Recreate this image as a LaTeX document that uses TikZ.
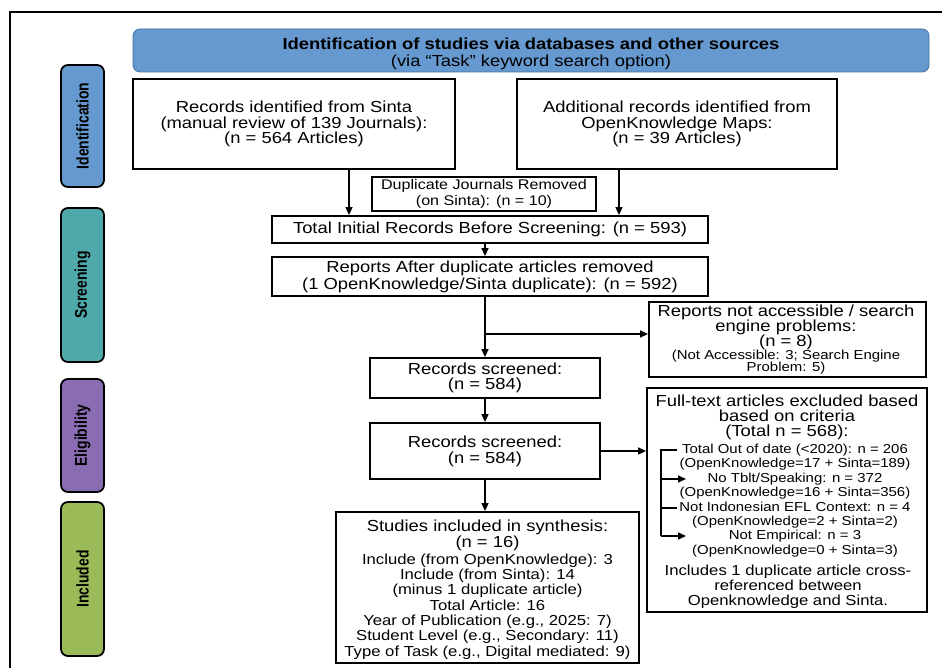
\documentclass[tikz,border=0pt]{standalone}
\usepackage{fontspec}
\setmainfont{Liberation Sans}[FakeStretch=1.15]
\newfontfamily\sidefont{Liberation Sans}[FakeStretch=0.82]
\usetikzlibrary{arrows.meta}
\definecolor{hdrblue}{HTML}{6699D0}
\definecolor{hdrline}{HTML}{41719C}
\definecolor{idblue}{HTML}{6699D0}
\definecolor{scrteal}{HTML}{4FA9AB}
\definecolor{eligpurple}{HTML}{8A6CB2}
\definecolor{inclgreen}{HTML}{9BBB59}
\newcommand\fsz[2]{\fontsize{#1}{#2}\selectfont}
\begin{document}
\begin{tikzpicture}[x=1pt,y=-1pt,
  box/.style={draw=black, line width=1.8pt, fill=white, inner sep=0pt, align=center},
  txt/.style={inner sep=0pt, align=center},
  side/.style={draw=black, line width=1.8pt, rounded corners=7pt, minimum width=43pt, inner sep=0pt},
  sidetxt/.style={rotate=90, inner sep=0pt, font=\sidefont\bfseries\fsz{17}{18}},
  arr/.style={line width=1.4pt, -{Triangle[length=8pt,width=7pt]}},
  plain/.style={line width=1.4pt}]
\useasboundingbox (0,0) rectangle (942,668);
\begin{scope}
\clip (0,0) rectangle (942,668);
\draw[line width=2.4pt] (10,12) rectangle (980,700);
\end{scope}

% header
\node[draw=hdrline, line width=0.8pt, fill=hdrblue, rounded corners=7pt, minimum width=796pt, minimum height=43pt, inner sep=0pt] (hdr) at (531,50.5) {};
\node[txt, font=\fsz{16}{17}] (hdrtxt) at (531,54) {\textbf{Identification of studies via databases and other sources}\\(via “Task” keyword search option)};

% side bars
\node[side, fill=idblue, minimum height=122pt] (sid) at (82.5,126) {};
\node[sidetxt] (sidt) at (sid.center) {Identification};
\node[side, fill=scrteal, minimum height=154pt] (sscr) at (82.5,285) {};
\node[sidetxt] (sscrt) at (sscr.center) {Screening};
\node[side, fill=eligpurple, minimum height=113pt] (sel) at (82.5,435.5) {};
\node[sidetxt] (selt) at (sel.center) {Eligibility};
\node[side, fill=inclgreen, minimum height=154pt] (sin) at (82.5,579) {};
\node[sidetxt] (sint) at (sin.center) {Included};

% identification boxes
\node[box, minimum width=322pt, minimum height=90pt, font=\fsz{16}{15.5}] (sinta) at (294,124) {Records identified from Sinta\\(manual review of 139 Journals):\\(n = 564 Articles)};
\node[box, minimum width=320pt, minimum height=90pt, font=\fsz{16}{15.5}] (okm) at (677,124) {Additional records identified from\\OpenKnowledge Maps:\\(n = 39 Articles)};
\node[box, line width=1.5pt, minimum width=224pt, minimum height=34pt, font=\fsz{14}{16}] (dup) at (484,194) {Duplicate Journals Removed\\(on Sinta): (n = 10)};

% screening
\node[box, minimum width=436pt, minimum height=27pt, font=\fsz{16}{17}] (total) at (490,229.5) {Total Initial Records Before Screening: (n = 593)};
\node[box, minimum width=436pt, minimum height=39pt, font=\fsz{16}{17}] (reports) at (490,276.5) {Reports After duplicate articles removed\\(1 OpenKnowledge/Sinta duplicate): (n = 592)};
\node[box, minimum width=277pt, minimum height=75pt] (notacc) at (787.5,339.5) {};
\node[txt, font=\fsz{16}{15}] (notacc1) at (786,327.5) {Reports not accessible / search\\engine problems:\\(n = 8)};
\node[txt, font=\fsz{13}{12.5}] (notacc2) at (786,362) {(Not Accessible: 3; Search Engine\\Problem: 5)};
\node[box, minimum width=230pt, minimum height=40pt, font=\fsz{16}{15}] (scr1) at (485,378) {Records screened:\\(n = 584)};

% eligibility
\node[box, minimum width=230pt, minimum height=56pt, font=\fsz{16}{16}] (scr2) at (485,451) {Records screened:\\(n = 584)};
\node[box, minimum width=280pt, minimum height=224pt] (full) at (787,500) {};
\node[txt, font=\fsz{16}{15}] (full1) at (787,417) {Full-text articles excluded based\\based on criteria\\(Total n = 568):};
\node[txt, font=\fsz{13}{14.4}] (full2) at (795,500.5) {Total Out of date (<2020): n = 206\\(OpenKnowledge=17 + Sinta=189)\\No Tblt/Speaking: n = 372\\(OpenKnowledge=16 + Sinta=356)\\Not Indonesian EFL Context: n = 4\\(OpenKnowledge=2 + Sinta=2)\\Not Empirical: n = 3\\(OpenKnowledge=0 + Sinta=3)};
\node[txt, font=\fsz{14.5}{15}] (full3) at (788,587) {Includes 1 duplicate article cross-\\referenced between\\Openknowledge and Sinta.};

% included
\node[box, minimum width=303pt, minimum height=151pt] (studies) at (487.5,587.5) {};
\node[txt, font=\fsz{16}{14.5}] (stud1) at (487.5,535.5) {Studies included in synthesis:\\(n = 16)};
\node[txt, font=\fsz{14.5}{15.3}] (stud2) at (487.5,606.5) {Include (from OpenKnowledge): 3\\Include (from Sinta): 14\\(minus 1 duplicate article)\\Total Article: 16\\Year of Publication (e.g., 2025: 7)\\Student Level (e.g., Secondary: 11)\\Type of Task (e.g., Digital mediated: 9)};

% connectors
\coordinate (xa) at (349,0);
\coordinate (xb) at (619,0);
\coordinate (xc) at (485,0);
\coordinate (br) at (485,334);
\draw[arr] (sinta.south -| xa) -- (total.north -| xa);
\draw[arr] (okm.south -| xb) -- (total.north -| xb);
\draw[arr] (total.south -| xc) -- (reports.north -| xc);
\draw[arr] (reports.south -| xc) -- (scr1.north -| xc);
\draw[arr] (br) -- (notacc.west |- br);
\draw[arr] (scr1.south -| xc) -- (scr2.north -| xc);
\draw[arr] (scr2.east) -- (full.west |- scr2.east);
\draw[arr] (scr2.south -| xc) -- (studies.north -| xc);

% bracket inside exclusion box
\coordinate (b1) at (661,450);
\coordinate (b2) at (661,479);
\coordinate (b3) at (661,508);
\coordinate (b4) at (661,536);
\draw[plain] ([xshift=16pt]b1) -- (b1) -- (b4);
\draw[plain] (b3) -- ([xshift=16pt]b3);
\draw[arr] (b2) -- ([xshift=25pt]b2);
\draw[arr] (b4) -- ([xshift=25pt]b4);
\end{tikzpicture}
\end{document}
